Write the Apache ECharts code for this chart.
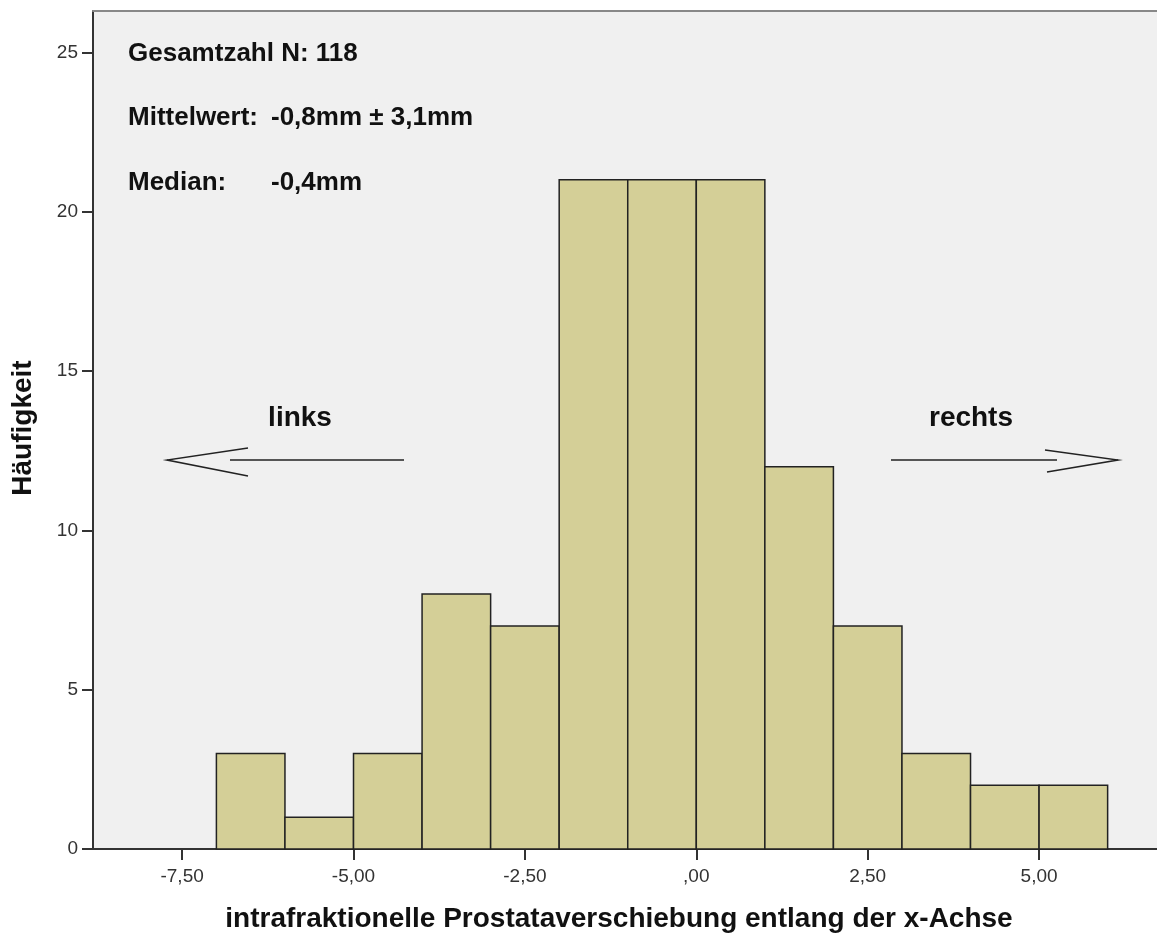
<!DOCTYPE html>
<html>
<head>
<meta charset="utf-8">
<script src="https://cdn.jsdelivr.net/npm/echarts@6/dist/echarts.min.js"></script>
<style>
html,body{margin:0;padding:0;background:#fff;}
#chart{width:1157px;height:938px;}
</style>
</head>
<body>
<div id="chart"></div>
<script>
// Histogram bins (lower edge, width 1 mm) and counts
const binStarts = [-7, -6, -5, -4, -3, -2, -1, 0, 1, 2, 3, 4, 5];
const binWidth = 1;
const counts = [3, 1, 3, 8, 7, 21, 21, 21, 12, 7, 3, 2, 2];
const xTickValues = [-7.5, -5, -2.5, 0, 2.5, 5];
const xTickLabels = ['-7,50', '-5,00', '-2,50', ',00', '2,50', '5,00'];
const yTickValues = [0, 5, 10, 15, 20, 25];
const yTickLabels = ['0', '5', '10', '15', '20', '25'];
const statLabels = ['Gesamtzahl N: 118', 'Mittelwert:', 'Median:'];
const statValues = ['', '-0,8mm \u00b1 3,1mm', '-0,4mm'];
const xTitle = 'intrafraktionelle Prostataverschiebung entlang der x-Achse';
const yTitle = 'Häufigkeit';

const FONT = '"Liberation Sans", Arial, sans-serif';
const chart = echarts.init(document.getElementById('chart'));
const histData = binStarts.map((s, i) => [s, s + binWidth, counts[i]]);

const statY = [54, 118, 183];
const statGraphics = [];
statLabels.forEach((t, i) => {
  statGraphics.push({ type: 'text', x: 128, y: statY[i], style: { text: t, font: 'bold 26px ' + FONT, fill: '#111', verticalAlign: 'middle' } });
  if (statValues[i]) {
    statGraphics.push({ type: 'text', x: 271, y: statY[i], style: { text: statValues[i], font: 'bold 26px ' + FONT, fill: '#111', verticalAlign: 'middle' } });
  }
});

const option = {
  animation: false,
  backgroundColor: '#ffffff',
  grid: {
    left: 93, top: 11, right: 0, height: 838,
    show: true, backgroundColor: '#f0f0f0', borderWidth: 0
  },
  xAxis: [{
    type: 'value', min: -8.8, max: 6.72, position: 'bottom',
    splitLine: { show: false },
    axisLine: { show: true, onZero: false, lineStyle: { color: '#333', width: 2 } },
    axisTick: { show: true, length: 11, lineStyle: { color: '#333', width: 2 }, customValues: xTickValues },
    axisLabel: {
      customValues: xTickValues, margin: 18, fontSize: 19, fontFamily: FONT, color: '#333',
      formatter: v => { const i = xTickValues.indexOf(v); return i >= 0 ? xTickLabels[i] : ''; }
    }
  }, {
    type: 'value', min: -8.8, max: 6.72, position: 'top',
    splitLine: { show: false },
    axisLine: { show: true, onZero: false, lineStyle: { color: '#888', width: 2 } },
    axisTick: { show: false }, axisLabel: { show: false }
  }],
  yAxis: {
    type: 'value', min: 0, max: 26.3,
    splitLine: { show: false },
    axisLine: { show: true, onZero: false, lineStyle: { color: '#333', width: 2 } },
    axisTick: { show: true, length: 11, lineStyle: { color: '#333', width: 2 }, customValues: yTickValues },
    axisLabel: {
      customValues: yTickValues, margin: 15, fontSize: 19, fontFamily: FONT, color: '#333',
      formatter: v => { const i = yTickValues.indexOf(v); return i >= 0 ? yTickLabels[i] : ''; }
    }
  },
  series: [{
    type: 'custom',
    xAxisIndex: 0,
    data: histData,
    encode: { x: [0, 1], y: 2 },
    renderItem: function (params, api) {
      const p0 = api.coord([api.value(0), api.value(2)]);
      const p1 = api.coord([api.value(1), 0]);
      return {
        type: 'rect',
        shape: { x: p0[0], y: p0[1], width: p1[0] - p0[0], height: p1[1] - p0[1] },
        style: { fill: '#d4cf97', stroke: '#222', lineWidth: 1.5 }
      };
    }
  }],
  graphic: statGraphics.concat([
    { type: 'text', x: 300, y: 418, style: { text: 'links', font: 'bold 28px ' + FONT, fill: '#111', align: 'center', verticalAlign: 'middle' } },
    { type: 'text', x: 971, y: 418, style: { text: 'rechts', font: 'bold 28px ' + FONT, fill: '#111', align: 'center', verticalAlign: 'middle' } },
    { type: 'line', shape: { x1: 230, y1: 460, x2: 404, y2: 460 }, style: { stroke: '#222', lineWidth: 1.5 } },
    { type: 'polyline', shape: { points: [[248, 448], [167, 460], [248, 476]] }, style: { stroke: '#222', lineWidth: 1.5, fill: null } },
    { type: 'line', shape: { x1: 891, y1: 460, x2: 1057, y2: 460 }, style: { stroke: '#222', lineWidth: 1.5 } },
    { type: 'polyline', shape: { points: [[1045, 450], [1118, 460], [1047, 472]] }, style: { stroke: '#222', lineWidth: 1.5, fill: null } },
    { type: 'text', x: 619, y: 919, style: { text: xTitle, font: 'bold 28px ' + FONT, fill: '#111', align: 'center', verticalAlign: 'middle' } },
    { type: 'text', x: 23, y: 428, rotation: Math.PI / 2, style: { text: yTitle, font: 'bold 28px ' + FONT, fill: '#111', align: 'center', verticalAlign: 'middle' } }
  ])
};
chart.setOption(option);
</script>
</body>
</html>
